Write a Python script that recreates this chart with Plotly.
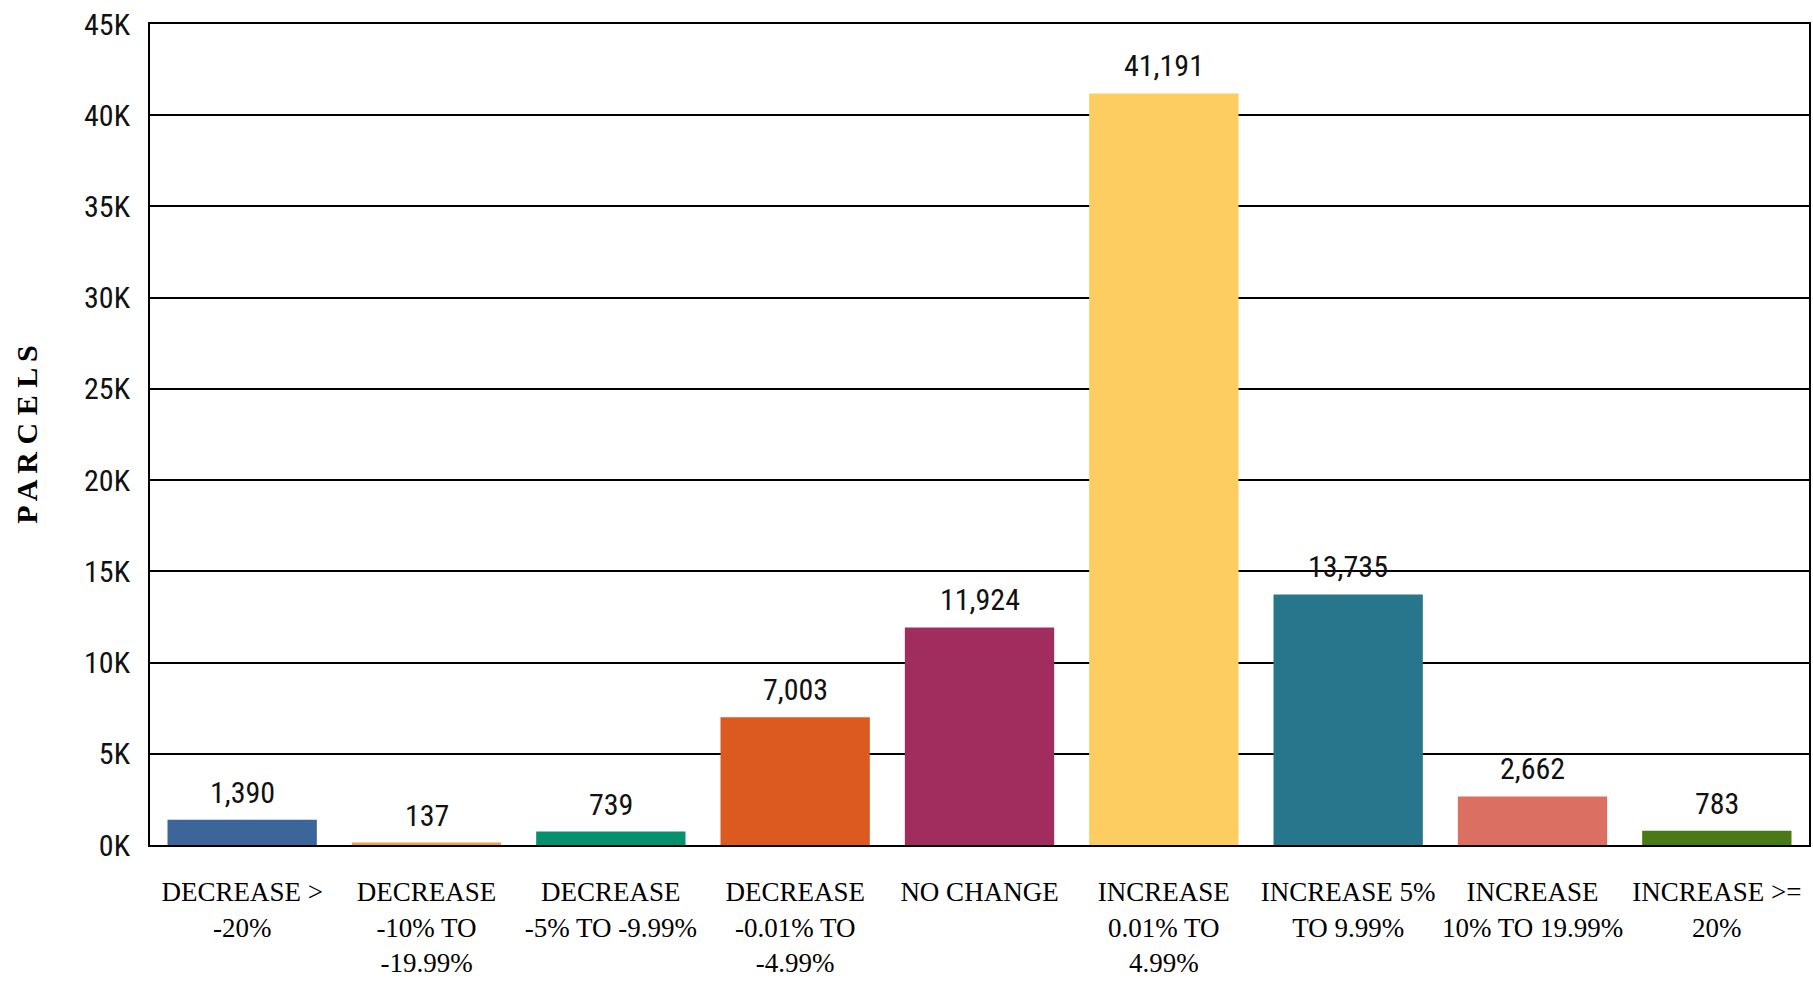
import plotly.graph_objects as go

categories = [
    "DECREASE ><br>-20%",
    "DECREASE<br>-10% TO<br>-19.99%",
    "DECREASE<br>-5% TO -9.99%",
    "DECREASE<br>-0.01% TO<br>-4.99%",
    "NO CHANGE",
    "INCREASE<br>0.01% TO<br>4.99%",
    "INCREASE 5%<br>TO 9.99%",
    "INCREASE<br>10% TO 19.99%",
    "INCREASE >=<br>20%",
]
parcels = [1390, 137, 739, 7003, 11924, 41191, 13735, 2662, 783]
bar_colors = ["#3C6699", "#EBA04B", "#05916E", "#DC5A20", "#A12D5E",
              "#FDCD61", "#28768C", "#DA6F62", "#497A16"]
y_tickvals = [0, 5000, 10000, 15000, 20000, 25000, 30000, 35000, 40000, 45000]
y_ticktext = ["0K", "5K", "10K", "15K", "20K", "25K", "30K", "35K", "40K", "45K"]

narrow = "Liberation Sans Narrow, Arial Narrow, Roboto Condensed, Liberation Sans, sans-serif"
serif = "Liberation Serif, Times New Roman, serif"

fig = go.Figure(go.Bar(
    x=categories, y=parcels, marker_color=bar_colors, marker_line_width=0,
    hoverinfo="skip",
))

for c, v in zip(categories, parcels):
    fig.add_annotation(x=c, y=v, text=f"{v:,}", showarrow=False,
                       yanchor="bottom", yshift=8,
                       font=dict(family=narrow, size=30, color="#111111"))

fig.update_layout(
    width=1813, height=990,
    margin=dict(l=150, r=2, t=24, b=145),
    paper_bgcolor="white", plot_bgcolor="white",
    bargap=0.19, showlegend=False,
)
fig.update_xaxes(
    showline=True, linecolor="black", linewidth=2, mirror=True,
    tickfont=dict(family=serif, size=27, color="black"),
    ticks="", ticklabelstandoff=22, showgrid=False,
)
fig.update_yaxes(
    range=[0, 45000], tickvals=y_tickvals, ticktext=y_ticktext,
    showline=True, linecolor="black", linewidth=2, mirror=True,
    showgrid=True, gridcolor="black", gridwidth=2,
    zeroline=False,
    tickfont=dict(family=narrow, size=30, color="#111111"),
    ticklabelstandoff=12,
    title=dict(text="P A R C E L S", standoff=38,
               font=dict(family=serif, size=30, color="black", weight="bold")),
)

fig.write_html("out.html")
